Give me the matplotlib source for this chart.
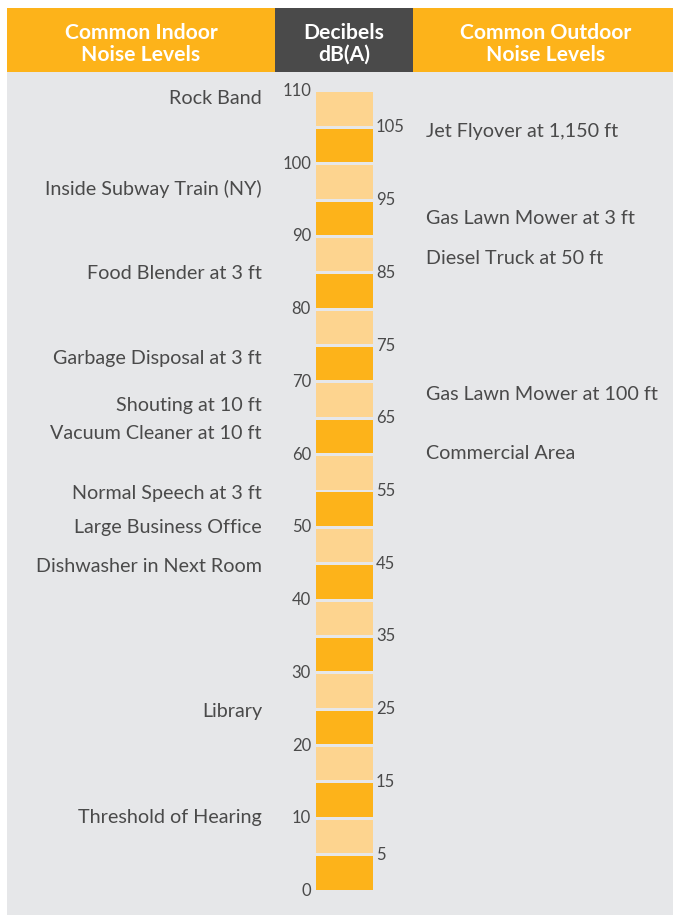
import matplotlib
matplotlib.use("Agg")
import matplotlib.pyplot as plt
from matplotlib.patches import Rectangle
from matplotlib.transforms import blended_transform_factory

# ---- data ----
segment_starts = list(range(0, 110, 5))  # 5 dB segments 0..110
left_ticks = [0, 10, 20, 30, 40, 50, 60, 70, 80, 90, 100, 110]
right_ticks = [5, 15, 25, 35, 45, 55, 65, 75, 85, 95, 105]

indoor_labels = ["Rock Band", "Inside Subway Train (NY)", "Food Blender at 3 ft",
                 "Garbage Disposal at 3 ft", "Shouting at 10 ft", "Vacuum Cleaner at 10 ft",
                 "Normal Speech at 3 ft", "Large Business Office", "Dishwasher in Next Room",
                 "Library", "Threshold of Hearing"]
indoor_db = [109.0, 96.5, 84.9, 73.2, 66.8, 62.9, 54.7, 50.0, 44.6, 24.7, 10.1]

outdoor_labels = ["Jet Flyover at 1,150 ft", "Gas Lawn Mower at 3 ft", "Diesel Truck at 50 ft",
                  "Gas Lawn Mower at 100 ft", "Commercial Area"]
outdoor_db = [104.5, 92.4, 86.9, 68.2, 60.2]

headers = ["Common Indoor\nNoise Levels", "Decibels\ndB(A)", "Common Outdoor\nNoise Levels"]

# ---- style ----
W, H = 673, 915
ORANGE = "#FDB31A"
LIGHT = "#FDD48F"
DARK = "#4A4A4A"
BG = "#E6E7E9"
TXT = "#4A4A4A"
plt.rcParams["font.family"] = ["Lato", "DejaVu Sans"]

fig = plt.figure(figsize=(W / 100, H / 100), dpi=100)
fig.patch.set_facecolor("white")

def fx(px):
    return px / W

def fy(py):
    return 1 - py / H

# panels
for (x0, y0, x1, y1, c) in [(7, 72, 673, 915, BG), (7, 8, 673, 72, ORANGE), (275, 8, 413, 72, DARK)]:
    fig.patches.append(Rectangle((fx(x0), fy(y1)), fx(x1) - fx(x0), fy(y0) - fy(y1),
                                 transform=fig.transFigure, facecolor=c, edgecolor="none", zorder=-5))

header_x = [141, 344, 546]
for hx, ht in zip(header_x, headers):
    fig.text(fx(hx), fy(44), ht, ha="center", va="center", color="white",
             fontsize=15.2, fontweight="bold", linespacing=1.12)

# bar axes
ax = fig.add_axes([fx(316), fy(891), fx(373) - fx(316), fy(91) - fy(891)])
ax.set_xlim(-0.5, 0.5)
ax.set_ylim(0, 110)
ax.axis("off")
colors = [ORANGE if (s // 5) % 2 == 0 else LIGHT for s in segment_starts]
gap = 0.4
ax.bar([0] * len(segment_starts), [5 - gap] * len(segment_starts), width=1.0,
       bottom=[s + gap / 2 for s in segment_starts], color=colors, edgecolor="none")

tr = blended_transform_factory(fig.transFigure, ax.transData)
for t in left_ticks:
    ax.text(fx(311), t, str(t), transform=tr, ha="right", va="center", fontsize=12, color=TXT, clip_on=False)
for t in right_ticks:
    ax.text(fx(376), t, str(t), transform=tr, ha="left", va="center", fontsize=12, color=TXT, clip_on=False)

for lab, v in zip(indoor_labels, indoor_db):
    ax.text(fx(262), v, lab, transform=tr, ha="right", va="center", fontsize=14.2, color=TXT, clip_on=False)
for lab, v in zip(outdoor_labels, outdoor_db):
    ax.text(fx(426), v, lab, transform=tr, ha="left", va="center", fontsize=14.2, color=TXT, clip_on=False)

fig.savefig("out.png", dpi=100)
